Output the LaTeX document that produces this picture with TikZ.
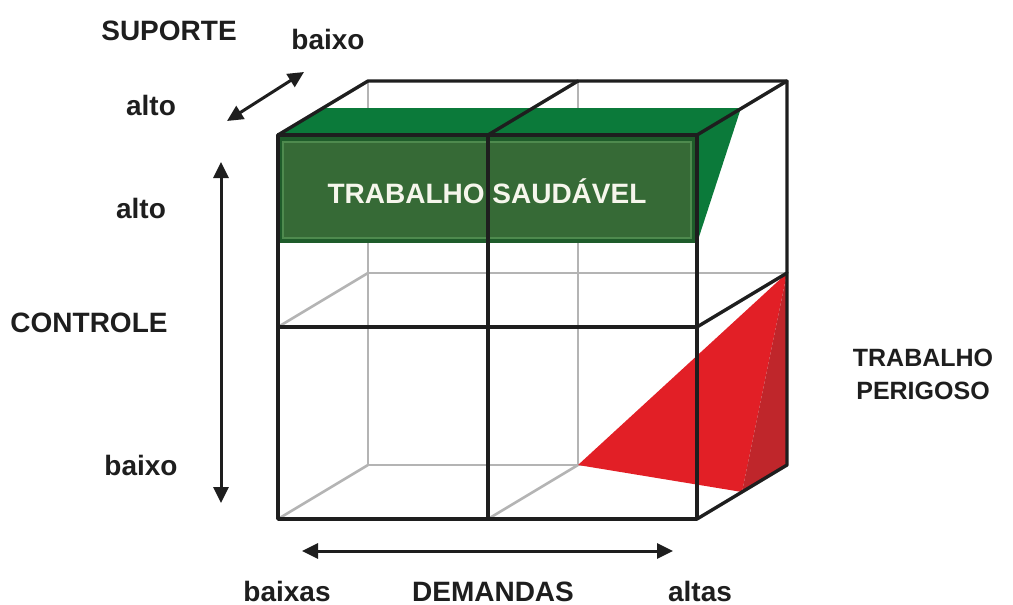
\documentclass[tikz,border=0pt]{standalone}
\usepackage{fontspec}
\setmainfont{Liberation Sans}
\usetikzlibrary{arrows.meta}
\definecolor{gridgray}{HTML}{B4B4B4}
\definecolor{greentop}{HTML}{0B7A3A}
\definecolor{greenfront}{HTML}{366A36}
\definecolor{greenedge}{HTML}{1E5C2A}
\definecolor{greenline}{HTML}{4E8A4E}
\definecolor{redmain}{HTML}{E21F26}
\definecolor{reddark}{HTML}{BF262B}
\definecolor{ink}{HTML}{1E1E1E}
\begin{document}
\begin{tikzpicture}[x=1pt,y=-1pt,
  lbl/.style={font=\bfseries\fontsize{28}{32}\selectfont, text=ink, inner sep=0pt, anchor=base},
  lblsmall/.style={lbl, font=\bfseries\fontsize{25}{30}\selectfont},
  backline/.style={draw=gridgray, line width=2.6pt},
  edge/.style={draw=ink, line width=3.4pt, line cap=round, line join=round},
  dbl/.style={{Triangle[length=16pt,width=15pt]}-{Triangle[length=16pt,width=15pt]}, line width=3pt, draw=ink}
]
\useasboundingbox (0,0) rectangle (1013,605);
% front corners
\coordinate (FTL) at (278,135); \coordinate (FTM) at (488,135); \coordinate (FTR) at (697,135);
\coordinate (FML) at (278,327); \coordinate (FMM) at (488,327); \coordinate (FMR) at (697,327);
\coordinate (FBL) at (278,519); \coordinate (FBM) at (488,519); \coordinate (FBR) at (697,519);
% back corners
\coordinate (BTL) at (368,81); \coordinate (BTM) at (578,81); \coordinate (BTR) at (787,81);
\coordinate (BML) at (368,273); \coordinate (BMM) at (578,273); \coordinate (BMR) at (787,273);
\coordinate (BBL) at (368,465); \coordinate (BBM) at (578,465); \coordinate (BBR) at (787,465);
% hidden (grey) lines
\draw[backline] (BTL) -- (BBL);
\draw[backline] (BTM) -- (BBM);
\draw[backline] (BML) -- (BMR);
\draw[backline] (BBL) -- (BBR);
\draw[backline] (FML) -- (BML);
\draw[backline] (FBL) -- (BBL);
\draw[backline] (FBM) -- (BBM);
% red wedge
\coordinate (RB) at (742,492);
\fill[redmain] (BBM) -- (BMR) -- (RB) -- cycle;
\fill[reddark] (BMR) -- (BBR) -- (RB) -- cycle;
% green slab
\coordinate (GTL) at (322,108); \coordinate (GTR) at (741,108); \coordinate (GBR) at (697,243);
\fill[greentop] (FTL) -- (GTL) -- (GTR) -- (FTR) -- cycle;
\fill[greentop] (FTR) -- (GTR) -- (GBR) -- cycle;
\fill[greenedge] (FTL) rectangle (GBR);
\filldraw[fill=greenfront, draw=greenline, line width=1.2pt] (283,142) rectangle (691,238);
\node[lbl, text={rgb,255:red,246;green,246;blue,236}] (saud) at (487,203) {TRABALHO SAUDÁVEL};
% visible (black) edges
\draw[edge] (FTL) rectangle (FBR);
\draw[edge] (FTM) -- (FBM);
\draw[edge] (FML) -- (FMR);
\draw[edge] (FTL) -- (BTL) -- (BTR) -- (BBR) -- (FBR);
\draw[edge] (FTM) -- (BTM);
\draw[edge] (FTR) -- (BTR);
\draw[edge] (FMR) -- (BMR);
% arrows
\coordinate (s1) at (227,121); \coordinate (s2) at (304,72);
\draw[dbl] (s1) -- (s2);
\coordinate (c1) at (221,162); \coordinate (c2) at (221,503);
\draw[dbl] (c1) -- (c2);
\coordinate (d1) at (302,551); \coordinate (d2) at (673,551);
\draw[dbl] (d1) -- (d2);
% labels
\node[lbl] (sup) at (169,40) {SUPORTE};
\node[lbl] (supb) at (328,49) {baixo};
\node[lbl] (supa) at (151,115) {alto};
\node[lbl] (cona) at (141,218) {alto};
\node[lbl] (con) at (89,332) {CONTROLE};
\node[lbl] (conb) at (141,475) {baixo};
\node[lbl] (demb) at (287,601) {baixas};
\node[lbl] (dem) at (493,601) {DEMANDAS};
\node[lbl] (dema) at (700,601) {altas};
\node[lblsmall] (per1) at (923,366) {TRABALHO};
\node[lblsmall] (per2) at (923,399) {PERIGOSO};
\end{tikzpicture}
\end{document}
